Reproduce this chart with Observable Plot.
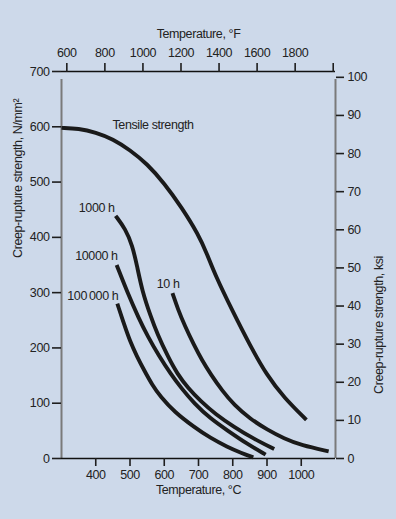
<!DOCTYPE html>
<html><head><meta charset="utf-8">
<script src="https://cdn.jsdelivr.net/npm/d3@7"></script>
<script src="https://cdn.jsdelivr.net/npm/@observablehq/plot@0.6"></script>
<style>
html,body{margin:0;padding:0;background:#cdd9ea;}
#chart svg{display:block;}
</style></head><body><div id="chart"></div>
<script>
// Data (°C, N/mm²)
const tensileT = [300,350,400,450,500,550,600,650,700,725,750,800,850,900,950,1015];
const tensileS = [598,597,590,578,558,533,498,455,405,370,330,266,205,150,110,70];
const h10T = [624,640,660,687,710,736,770,804,850,901,950,1000,1080];
const h10S = [299,270,240,205,178,152,122,97,72,52,36,24,13];
const h1000T = [458,487,507,520,536,560,580,610,638,670,706,750,804,860,921];
const h1000S = [439,415,385,350,302,258,225,185,153,127,104,80,57,36,17];
const h10000T = [461,492,526,551,585,619,650,687,735,784,840,896];
const h10000S = [350,301,253,222,185,153,127,100,72,51,27,7];
const h100000T = [463,482,500,520,541,565,589,630,687,735,784,825,860];
const h100000S = [280,244,212,185,160,133,112,84,57,37,21,10,2];

const seriesNames = ["Tensile strength","10 h","1000 h","10000 h","100\u2009000 h"];
const seriesT = [tensileT,h10T,h1000T,h10000T,h100000T];
const seriesS = [tensileS,h10S,h1000S,h10000S,h100000S];

// Axis ticks
const cTicks = [400,500,600,700,800,900,1000];
const nTicks = [0,100,200,300,400,500,600,700];
const fTicks = [600,800,1000,1200,1400,1600,1800,2000];
const fLabels = ["600","800","1000","1200","1400","1600","1800",""];
const ksiTicks = [0,10,20,30,40,50,60,70,80,90,100];
const KSI = 6.894757;
const f2c = f => (f - 32) * 5 / 9;

const rows = [];
seriesNames.forEach((name, i) => {
  seriesT[i].forEach((t, j) => rows.push({series: name, t, s: seriesS[i][j]}));
});
const starts = seriesNames.map((name, i) => ({series: name, t: seriesT[i][0], s: seriesS[i][0]}));
const labelOffsets = {
  "Tensile strength": {dx: 51, dy: -3, anchor: "start"},
  "10 h": {dx: 7, dy: -9, anchor: "end"},
  "1000 h": {dx: -1, dy: -8, anchor: "end"},
  "10000 h": {dx: 1, dy: -9, anchor: "end"},
  "100\u2009000 h": {dx: 1, dy: -8, anchor: "end"}
};

const font = "'Liberation Sans',Arial,sans-serif";
const ink = "#1a1a1a";
const tickInk = "#1e1e1e";

const chart = Plot.plot({
  width: 396, height: 519,
  marginLeft: 61, marginRight: 61, marginTop: 71, marginBottom: 61,
  style: {background: "#cdd9ea", fontFamily: font, fontSize: "12.5px", letterSpacing: "-0.4px", color: "#222"},
  x: {domain: [300, 1100], axis: null},
  y: {domain: [0, 700], axis: null},
  marks: [
    // frame lines
    Plot.ruleX([300, 1100], {y1: 0, y2: 700, stroke: "#7a7a7a", strokeWidth: 2, insetBottom: -8}),
    Plot.ruleY([0, 700], {stroke: "#111", strokeWidth: 1.4}),
    // bottom °C axis
    Plot.axisX({anchor: "bottom", ticks: cTicks, tickSize: 8, tickPadding: 4, tickFormat: d => String(d), stroke: tickInk, strokeWidth: 1.6, label: null}),
    // top °F axis
    Plot.axisX({anchor: "top", ticks: fTicks.map(f2c), tickSize: 9, tickPadding: 6,
      tickFormat: (d, i) => fLabels[i], stroke: tickInk, strokeWidth: 1.6, label: null}),
    // left N/mm² axis
    Plot.axisY({anchor: "left", ticks: nTicks, tickSize: 9, tickPadding: 3, tickFormat: d => String(d), stroke: tickInk, strokeWidth: 1.6, label: null}),
    // right ksi axis
    Plot.axisY({anchor: "right", ticks: ksiTicks.map(k => k * KSI), tickSize: 8, tickPadding: 4,
      tickFormat: (d, i) => String(ksiTicks[i]), stroke: tickInk, strokeWidth: 1.6, label: null}),
    // axis titles
    Plot.text(["Temperature, °C"], {frameAnchor: "bottom", dy: 35, fill: "#222"}),
    Plot.text(["Temperature, °F"], {frameAnchor: "top", dy: -42, fill: "#222"}),
    Plot.text(["Creep-rupture strength, N/mm²"], {frameAnchor: "left", rotate: -90, dx: -44, dy: -7, fill: "#222"}),
    Plot.text(["Creep-rupture strength, ksi"], {frameAnchor: "right", rotate: -90, dx: 43, dy: -9, fill: "#222"}),
    // curves
    Plot.line(rows, {x: "t", y: "s", z: "series", curve: "basis", stroke: ink, strokeWidth: 3.9, strokeLinecap: "butt", strokeLinejoin: "round"}),
    // series labels
    ...starts.map(d => Plot.text([d], {x: "t", y: "s", text: "series",
      dx: labelOffsets[d.series].dx, dy: labelOffsets[d.series].dy,
      textAnchor: labelOffsets[d.series].anchor, fill: "#222"}))
  ]
});
document.getElementById("chart").appendChild(chart);
</script>
</body></html>
